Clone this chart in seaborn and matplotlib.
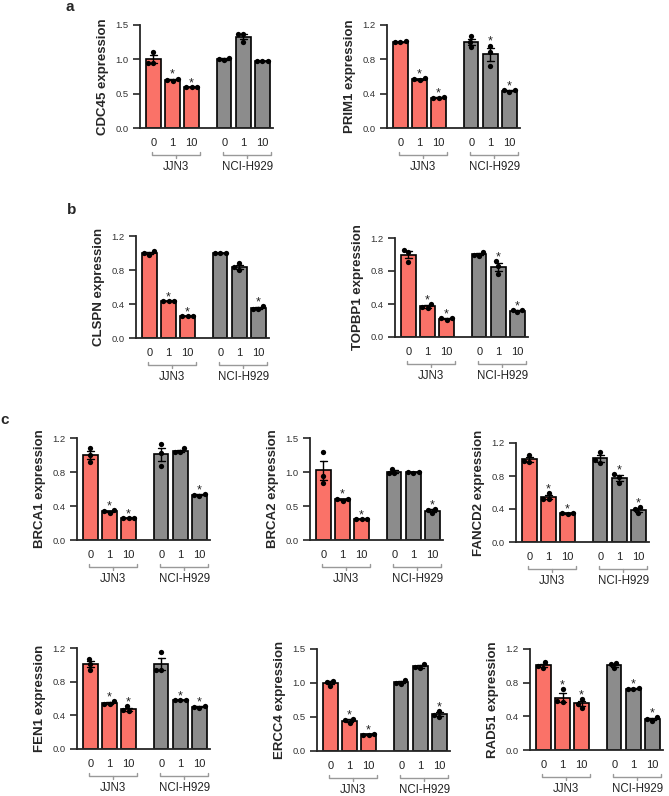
import numpy as np
import pandas as pd
import matplotlib
matplotlib.use("Agg")
import matplotlib.pyplot as plt
import seaborn as sns

# conditions: JJN3 0/1/10, NCI-H929 0/1/10 ; three replicates each
doses = ["0", "1", "10", "0", "1", "10"]
lines = ["JJN3", "JJN3", "JJN3", "NCI-H929", "NCI-H929", "NCI-H929"]

cdc45 = [[1.11, 0.95, 0.95], [0.72, 0.70, 0.69], [0.60, 0.59, 0.60],
         [1.02, 0.99, 1.00], [1.37, 1.37, 1.25], [0.97, 0.98, 0.98]]
prim1 = [[1.00, 1.00, 1.01], [0.58, 0.57, 0.56], [0.36, 0.35, 0.35],
         [1.07, 1.00, 0.94], [0.96, 0.89, 0.72], [0.42, 0.44, 0.44]]
clspn = [[1.02, 0.98, 1.00], [0.43, 0.43, 0.43], [0.26, 0.26, 0.26],
         [1.00, 1.00, 1.00], [0.88, 0.83, 0.80], [0.38, 0.34, 0.34]]
topbp1 = [[1.06, 1.03, 0.91], [0.40, 0.35, 0.36], [0.21, 0.23, 0.23],
          [1.03, 0.98, 1.00], [0.92, 0.86, 0.76], [0.30, 0.33, 0.33]]
brca1 = [[1.08, 1.00, 0.92], [0.32, 0.35, 0.34], [0.26, 0.26, 0.26],
         [1.13, 1.02, 0.87], [1.08, 1.03, 1.03], [0.53, 0.54, 0.52]]
brca2 = [[1.29, 0.94, 0.84], [0.58, 0.61, 0.61], [0.31, 0.31, 0.31],
         [1.05, 0.98, 0.98], [1.00, 0.99, 1.00], [0.46, 0.44, 0.39]]
fancd2 = [[1.06, 0.98, 0.97], [0.59, 0.52, 0.52], [0.35, 0.35, 0.34],
          [1.09, 0.99, 0.96], [0.82, 0.79, 0.71], [0.42, 0.40, 0.35]]
fen1 = [[1.07, 1.01, 0.94], [0.57, 0.54, 0.54], [0.51, 0.45, 0.46],
        [1.15, 0.94, 0.94], [0.58, 0.58, 0.58], [0.51, 0.49, 0.50]]
ercc4 = [[1.03, 0.96, 1.02], [0.47, 0.41, 0.46], [0.24, 0.24, 0.25],
         [1.04, 0.99, 1.00], [1.28, 1.22, 1.23], [0.59, 0.50, 0.53]]
rad51 = [[1.04, 0.98, 1.00], [0.72, 0.57, 0.58], [0.61, 0.55, 0.50],
         [1.03, 0.97, 1.02], [0.74, 0.72, 0.73], [0.39, 0.35, 0.37]]

# conditions marked with * (index into the six conditions)
stars = {
    "CDC45": [1, 2], "PRIM1": [1, 2, 4, 5], "CLSPN": [1, 2, 5],
    "TOPBP1": [1, 2, 4, 5], "BRCA1": [1, 2, 5], "BRCA2": [1, 2, 5],
    "FANCD2": [1, 2, 4, 5], "FEN1": [1, 2, 4, 5], "ERCC4": [1, 2, 5],
    "RAD51": [1, 2, 4, 5],
}
ymax = {"CDC45": 1.5, "BRCA2": 1.5, "ERCC4": 1.5}

genes = {"CDC45": cdc45, "PRIM1": prim1, "CLSPN": clspn, "TOPBP1": topbp1,
         "BRCA1": brca1, "BRCA2": brca2, "FANCD2": fancd2, "FEN1": fen1,
         "ERCC4": ercc4, "RAD51": rad51}

# pixel layout: left spine x, top y, bottom y
layout = {
    "CDC45": (140, 25, 128), "PRIM1": (387, 25, 128),
    "CLSPN": (136, 236, 338), "TOPBP1": (395, 238, 337),
    "BRCA1": (77, 438, 540), "BRCA2": (310, 438, 540), "FANCD2": (516, 443, 542),
    "FEN1": (77, 648, 749), "ERCC4": (317, 649, 751), "RAD51": (530, 649, 750),
}
AX_W = 133
W, H = 669, 796
pos = [0, 1, 2, 3.7, 4.7, 5.7]
palette = {"JJN3": "#FA7268", "NCI-H929": "#8C8C8C"}

sns.set_style("ticks")
plt.rcParams["font.family"] = ["Liberation Sans", "DejaVu Sans"]

fig = plt.figure(figsize=(W / 100, H / 100), dpi=100)

for gene, reps in genes.items():
    left, top, bottom = layout[gene]
    h_px = bottom - top
    ax = fig.add_axes([left / W, 1 - bottom / H, AX_W / W, h_px / H])

    rows = []
    for i, vals in enumerate(reps):
        for v in vals:
            rows.append({"pos": pos[i], "line": lines[i], "value": v})
    df = pd.DataFrame(rows)

    sns.barplot(data=df, x="pos", y="value", hue="line", palette=palette,
                native_scale=True, dodge=False, width=0.75, saturation=1,
                errorbar="se", capsize=0.35,
                err_kws={"color": "k", "linewidth": 1.0},
                edgecolor="k", linewidth=1.2, legend=False, ax=ax)
    sns.swarmplot(data=df, x="pos", y="value", native_scale=True,
                  color="k", size=3.8, ax=ax, zorder=4)

    top_val = ymax.get(gene, 1.2)
    ax.set_xlim(-0.7, 6.25)
    ax.set_ylim(0, top_val)
    yt = np.linspace(0, top_val, 4)
    ax.set_yticks(yt)
    ax.set_yticklabels([f"{t:.1f}" for t in yt], fontsize=6.8, color="#333333")
    ax.set_xticks(pos)
    ax.set_xticklabels(doses, fontsize=8, color="#222222")
    ax.tick_params(axis="y", length=5, width=1.2, pad=3)
    ax.tick_params(axis="x", length=0, pad=7)
    for s in ["left", "bottom"]:
        ax.spines[s].set_linewidth(1.3)
    sns.despine(ax=ax)
    ax.set_xlabel("")
    ax.set_ylabel(f"{gene} expression", fontsize=9.5, fontweight="bold", labelpad=5)

    # significance stars
    for i in stars[gene]:
        vals = np.array(reps[i])
        sem = vals.std(ddof=1) / np.sqrt(len(vals))
        y = max(vals.max(), vals.mean() + sem)
        ax.annotate("*", (pos[i], y), xytext=(0, 0.5), textcoords="offset points",
                    ha="center", va="baseline", fontsize=9, color="#222222")

    # group brackets
    trans = ax.get_xaxis_transform()
    yb = -27 / h_px
    tk = 3 / h_px
    for g0 in (0, 3):
        x0 = pos[g0] - 0.05
        x1 = pos[g0 + 2] + 0.45
        xm = (x0 + x1) / 2
        ax.plot([x0, x0, x1, x1], [yb + tk, yb, yb, yb + tk], color="#999999",
                lw=1.0, transform=trans, clip_on=False)
        ax.plot([xm, xm], [yb, yb - tk], color="#999999", lw=1.0,
                transform=trans, clip_on=False)
        ax.text(xm, -39 / h_px, lines[g0], transform=trans, ha="center",
                va="center", fontsize=8.3, color="#222222")

for lab, x, y in [("a", 70, 7), ("b", 72, 210), ("c", 5, 420)]:
    fig.text(x / W, 1 - y / H, lab, fontsize=11, fontweight="bold",
             ha="center", va="center")

fig.savefig("out.png", dpi=100)
